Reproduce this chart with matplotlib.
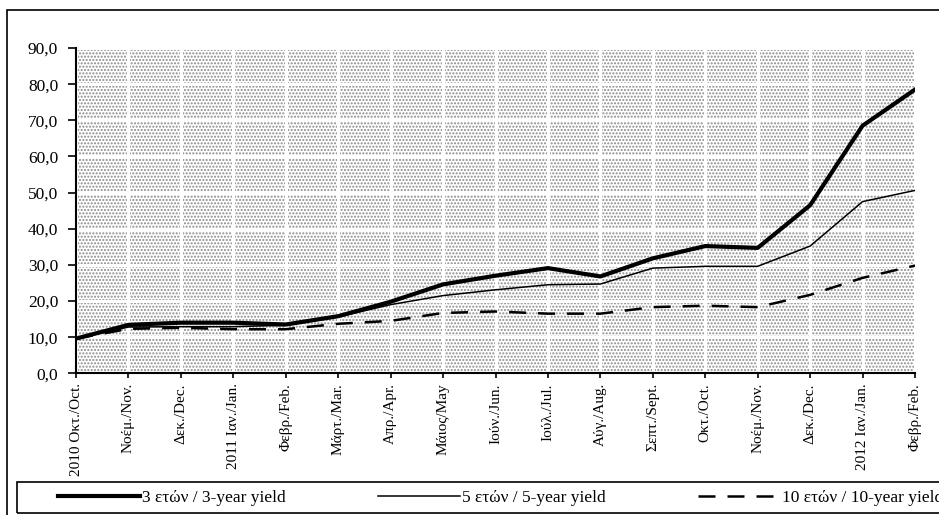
import matplotlib.pyplot as plt
from matplotlib.patches import Rectangle
from matplotlib.lines import Line2D

plt.rcParams['font.family'] = ['Liberation Serif', 'DejaVu Serif']

months = ['2010 Οκτ./Oct.', 'Νοέμ./Nov.', 'Δεκ./Dec.', '2011 Ιαν./Jan.', 'Φεβρ./Feb.',
          'Μάρτ./Mar.', 'Απρ./Apr.', 'Μάιος/May', 'Ιούν./Jun.', 'Ιούλ./Jul.',
          'Αύγ./Aug.', 'Σεπτ./Sept.', 'Οκτ./Oct.', 'Νοέμ./Nov.', 'Δεκ./Dec.',
          '2012 Ιαν./Jan.', 'Φεβρ./Feb.']
yield_3y = [9.6, 13.4, 14.0, 14.0, 13.5, 15.8, 19.8, 24.6, 27.0, 29.1,
            26.8, 31.8, 35.2, 34.7, 46.5, 68.5, 78.5]
yield_5y = [9.6, 12.8, 12.9, 12.9, 13.3, 15.6, 19.0, 21.5, 23.1, 24.5,
            24.7, 29.1, 29.6, 29.6, 35.2, 47.5, 50.6]
yield_10y = [9.6, 12.3, 12.6, 12.2, 12.2, 13.7, 14.5, 16.7, 17.1, 16.5,
             16.5, 18.3, 18.7, 18.3, 21.7, 26.4, 29.8]
yticks = [0, 10, 20, 30, 40, 50, 60, 70, 80, 90]
labels = ['3 ετών / 3-year yield', '5 ετών / 5-year yield', '10 ετών / 10-year yield']

W, H = 939, 515
fig = plt.figure(figsize=(W / 100, H / 100), dpi=100)
ax = fig.add_axes([76 / W, 1 - 373.3 / H, (915 - 76) / W, (373.3 - 48) / H])

# stippled plot background
ax.set_facecolor('white')
ax.add_patch(Rectangle((0, 0), 1, 1, transform=ax.transAxes, facecolor='white',
                       edgecolor='#8a8a8a', linewidth=0, hatch='.....', zorder=0))
ax.set_axisbelow(True)
ax.grid(True, color='white', linewidth=2.2)

x = list(range(len(months)))
ax.plot(x, yield_3y, color='black', linewidth=3.0, solid_joinstyle='round', zorder=3)
ax.plot(x, yield_5y, color='black', linewidth=1.1, zorder=3)
ax.plot(x, yield_10y, color='black', linewidth=1.8, linestyle=(0, (6.8, 4.8)), zorder=3)

ax.set_xlim(0, len(months) - 1)
ax.set_ylim(0, 90)
ax.set_yticks(yticks)
ax.set_yticklabels([f'{v:.1f}'.replace('.', ',') for v in yticks], fontsize=12.5)
ax.set_xticks(x)
ax.set_xticklabels(months, rotation=90, fontsize=11)
ax.tick_params(axis='y', direction='out', length=5.8, width=1.2, pad=7)
ax.tick_params(axis='x', direction='out', length=3.6, width=1.2, pad=3.5)
for s in ['top', 'right']:
    ax.spines[s].set_visible(False)
for s in ['left', 'bottom']:
    ax.spines[s].set_linewidth(1.5)

# outer border and legend box
fig.patches.append(Rectangle((7 / W, -0.05), 1.2, 1 - 10 / H + 0.05, transform=fig.transFigure,
                             fill=False, edgecolor='black', linewidth=1.2))
fig.patches.append(Rectangle((17 / W, 1 - 513 / H), 1.2, 31 / H, transform=fig.transFigure,
                             fill=False, edgecolor='black', linewidth=1.2))

handles = [Line2D([], [], color='black', linewidth=3.0),
           Line2D([], [], color='black', linewidth=1.1),
           Line2D([], [], color='black', linewidth=1.8, linestyle=(0, (6.8, 4.8)))]
fig.legend(handles, labels, ncol=3, frameon=False, loc='center left',
           bbox_to_anchor=(58 / W, 1 - 497.5 / H), borderpad=0, borderaxespad=0,
           fontsize=12.5, handlelength=4.7, handletextpad=0.15, columnspacing=5.3)

fig.savefig('out.png', dpi=100)
